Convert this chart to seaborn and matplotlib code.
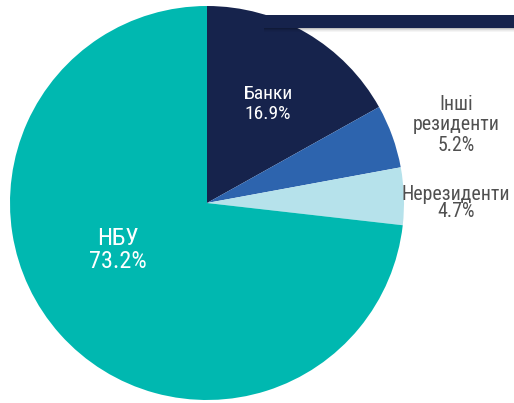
import numpy as np
import matplotlib
matplotlib.use("Agg")
import matplotlib.pyplot as plt
from matplotlib.patches import Rectangle
import seaborn as sns

labels = ["Банки", "Інші\nрезиденти", "Нерезиденти", "НБУ"]
shares = [16.9, 5.2, 4.7, 73.2]
colors = ["#16234c", "#2d64ae", "#b6e2eb", "#00b8b0"]

sns.set_theme(style="white")
plt.rcParams['font.family'] = ['Roboto Condensed', 'Roboto', 'DejaVu Sans']

W, H = 514, 403
cx, cy, r = 207, 203, 197

fig = plt.figure(figsize=(W / 100, H / 100), dpi=100)
ax = fig.add_axes([0, 0, 1, 1])
ax.pie(shares, colors=sns.color_palette(colors), startangle=90, counterclock=False,
       wedgeprops=dict(linewidth=0))
ax.set_aspect('auto')
ax.set_xlim(-cx / r, (W - cx) / r)
ax.set_ylim(-(H - cy) / r, cy / r)
ax.axis('off')

# label placement (pixel centre, size, colour, line spacing)
spots = [(268, 104, 14, 'white', 1.2),
         (456, 125, 14.3, '#505050', 1.1),
         (456, 203, 14.3, '#505050', 0.9),
         (118, 250, 17.5, 'white', 1.05)]
for name, val, (px, py, fs, c, ls) in zip(labels, shares, spots):
    ax.text((px - cx) / r, (cy - py) / r, f"{name}\n{val:.1f}%", ha='center', va='center',
            fontsize=fs, color=c, linespacing=ls)

# header bar with a soft shadow
for i, a in enumerate([0.25, 0.15, 0.08, 0.04]):
    fig.add_artist(Rectangle((264 / W, 1 - (29 + i) / H), (W - 264) / W, 1 / H,
                             transform=fig.transFigure, color='black', alpha=a, lw=0))
fig.add_artist(Rectangle((262 / W, 1 - 28 / H), (W - 262) / W, 13 / H,
                         transform=fig.transFigure, color='#16234c', lw=0))

fig.savefig("out.png", dpi=100)
